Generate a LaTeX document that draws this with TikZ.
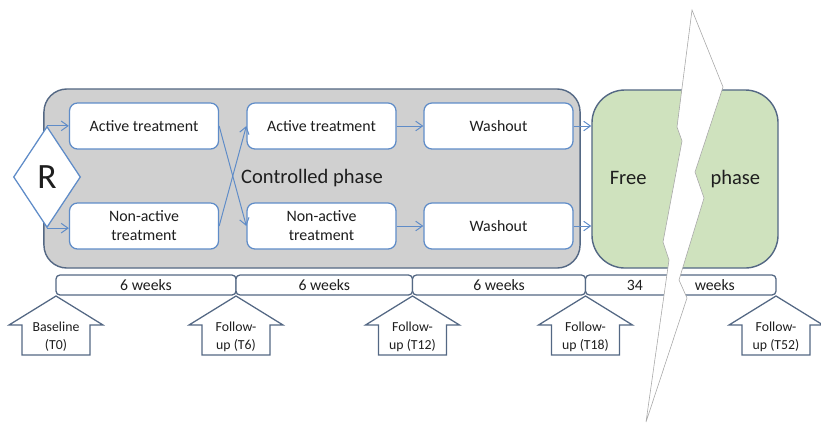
\documentclass[tikz,border=0pt]{standalone}
\usepackage{fontspec}
\setmainfont{Carlito}
\usetikzlibrary{shapes.geometric}
\usetikzlibrary{arrows.meta}
\usepackage{xcolor}
\definecolor{boxblue}{RGB}{95,140,200}
\definecolor{slate}{RGB}{84,104,132}
\definecolor{ctrlgray}{RGB}{208,208,208}
\definecolor{freegreen}{RGB}{207,226,190}
\definecolor{ink}{RGB}{30,30,30}

\begin{document}
\begin{tikzpicture}[x=0.025cm, y=-0.025cm,
    every node/.style={text=ink},
    phasebox/.style={draw=slate, line width=1pt, inner sep=0pt, font=\fontsize{14.6}{17}\selectfont},
    treat/.style={draw=boxblue, fill=white, line width=0.9pt, rounded corners=0.2cm,
        minimum width=3.725cm, minimum height=1.15cm, inner sep=0pt, align=center,
        font=\fontsize{11.3}{13.5}\selectfont},
    weekbox/.style={draw=slate, fill=white, line width=0.9pt, rounded corners=0.1cm,
        minimum height=0.5cm, inner sep=0pt, font=\fontsize{11.2}{13}\selectfont},
    visit/.style={fill=white, draw=slate, line width=0.9pt},
    flow/.style={boxblue, line width=0.7pt, -{Straight Barb[length=1.7mm,width=2.4mm]}}
]
    \useasboundingbox (0,0) rectangle (821,424);
    \def\hw{47}
    \def\sw{34}

    % phases
    \node[phasebox, fill=ctrlgray, rounded corners=0.575cm, minimum width=13.4cm, minimum height=4.475cm] (ctrl) at (312,178.5) {Controlled phase};
    \node[phasebox, fill=freegreen, rounded corners=0.825cm, minimum width=4.65cm, minimum height=4.45cm] (free) at (685,179) {Free\hspace{1.6cm}phase};

    % randomisation and arms
    \node[diamond, draw=boxblue, fill=white, line width=0.9pt, inner sep=0pt, minimum width=1.675cm, minimum height=2.525cm, font=\fontsize{25.3}{28}\selectfont] (R) at (47,177) {R};
    \node[treat] (a1) at (144,126) {Active treatment};
    \node[treat] (n1) at (144,226) {Non-active\\treatment};
    \node[treat] (a2) at (321.5,126) {Active treatment};
    \node[treat] (n2) at (321.5,226) {Non-active\\treatment};
    \node[treat] (w1) at (498.5,126) {Washout};
    \node[treat] (w2) at (498.5,226) {Washout};

    \draw[flow] (R.north) -- (R.north -| a1.west);
    \draw[flow] (R.south) -- (R.south -| n1.west);
    \draw[flow] (a1.east) -- (n2.west);
    \draw[flow] (n1.east) -- (a2.west);
    \draw[flow] (a2) -- (w1);
    \draw[flow] (n2) -- (w2);
    \draw[flow] (w1.east) -- (w1.east -| free.west);
    \draw[flow] (w2.east) -- (w2.east -| free.west);

    % timeline
    \node[weekbox, minimum width=4.5cm] (s1) at (146,285) {6 weeks};
    \node[weekbox, minimum width=4.4125cm] (s2) at (324.25,285) {6 weeks};
    \node[weekbox, minimum width=4.325cm] (s3) at (499,285) {6 weeks};
    \node[weekbox, minimum width=4.7625cm] (s4) at (680.75,285) {34\hspace{1.3cm}weeks};

    % visits
    \foreach \x/\top/\bot [count=\i] in {56/Baseline/(T0), 236/Follow-/up (T6), 412.5/Follow-/up (T12), 585.5/Follow-/up (T18), 776/Follow-/up (T52)}{
        \filldraw[visit] (\x,296) -- (\x+\hw,325) -- (\x+\sw,325) -- (\x+\sw,355) -- (\x-\sw,355) -- (\x-\sw,325) -- (\x-\hw,325) -- cycle;
        \node[align=center, inner sep=0pt, font=\fontsize{9.8}{12.8}\selectfont] (t\i) at (\x,337) {\top\\\bot};
    }

    % break
    \filldraw[fill=white, draw=gray!70, line width=0.4pt] (692,10) -- (723,87) -- (695,172) -- (704,198) -- (679,280) -- (687,298) -- (646,422) -- (669,260) -- (663,242) -- (682,141) -- (677,127) -- cycle;
\end{tikzpicture}
\end{document}
